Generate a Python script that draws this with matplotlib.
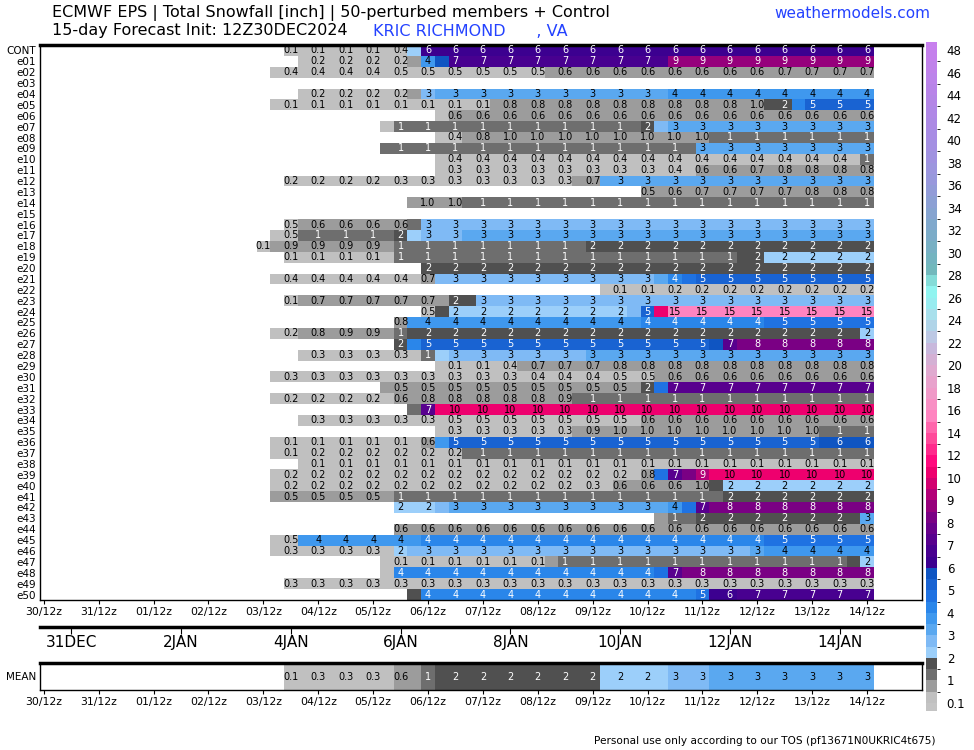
import numpy as np
import matplotlib
matplotlib.use("Agg")
import matplotlib.pyplot as plt
from matplotlib.colors import ListedColormap, BoundaryNorm
from matplotlib.cm import ScalarMappable

# 6-hourly accumulated snowfall [inch], 03/12z .. 14/12z (45 steps).
# "v*n" = n steps of value v, "-" = no snow.
MEMBERS = ["CONT"] + ["e%02d" % k for k in range(1, 51)]
SNOW_6H = [
    "-*2 0.1*7 0.3 0.4 2.2 6.2*33",                       # CONT
    "-*3 0.2*8 0.8 3.8 5.7 6.9*16 8.9*15",                # e01
    "- 0.4*9 0.48*11 0.6*17 0.7*7",                       # e02
    "-*45",                                               # e03
    "-*3 0.2*8 0.8 2.8 3.2*17 3.8*15",                    # e04
    "- 0.1*16 0.8*18 0.9 0.97 1.8 1.9 4.3 5.2*5",         # e05
    "-*13 0.4 0.6*31",                                    # e06
    "-*9 0.4 1.1*18 1.6 2.7 3.2*15",                      # e07
    "-*13 0.3 0.4 0.6 0.8 0.9 0.97*15 1.1*12",            # e08
    "-*9 1.1*23 3.2*13",                                  # e09
    "-*13 0.4*31 1.1",                                    # e10
    "-*13 0.3*17 0.4 0.45 0.6*3 0.65 0.7 0.75 0.8*7",     # e11
    "-*2 0.2*8 0.3*13 0.6 0.7 3.2*20",                    # e12
    "-*28 0.52 0.52 0.55 0.6 0.7*7 0.75 0.8*5",           # e13
    "-*11 0.97*4 1.1*30",                                 # e14
    "-*45",                                               # e15
    "-*2 0.48 0.6*8 1.2 2.8*33",                          # e16
    "- 0.4 0.48 1.1*7 1.7 2.3 2.8*3 3.2*30",              # e17
    "0.1 0.9*9 1.1*14 1.8*21",                            # e18
    "-*2 0.1*8 1.1*25 1.8 1.9 2.2*8",                     # e19
    "-*12 1.8*33",                                        # e20
    "- 0.3 0.4*10 0.7 2.8*16 3.3 4.4 4.8 5.2*13",         # e21
    "-*25 0.1*5 0.2*15",                                  # e22
    "-*2 0.1 0.7*11 1.8*2 2.8*29",                        # e23
    "-*12 0.48 1.8 2.2*13 2.7 5.2 10.5 15.2*15",          # e24
    "-*10 0.8 3.8*17 4.2*9 4.7*8",                        # e25
    "- 0.2 0.2 0.7 0.8 0.85 0.9*4 1.1 1.8*33 2.1",        # e26
    "-*10 1.8 4.3 5.2*21 5.7 7.2 8.2*10",                 # e27
    "-*3 0.3*9 1.1 2.3 2.8*10 3.2*21",                    # e28
    "-*13 0.1*4 0.3 0.4 0.7*7 0.8*19",                    # e29
    "- 0.3*19 0.4*6 0.48*3 0.6*16",                       # e30
    "-*9 0.53*19 1.8 4.6 7.2*15",                         # e31
    "- 0.2*9 0.6 0.8*11 0.9 1.1*22",                      # e32
    "-*11 1.3 7.2 10.3*32",                               # e33
    "-*3 0.3*10 0.48*15 0.6*17",                          # e34
    "-*13 0.3*10 0.6 0.9 0.97*16 1.1*4",                  # e35
    "- 0.1*11 0.6 3.8 5.2*27 5.7*4",                      # e36
    "- 0.1 0.1 0.2*12 1.1*30",                            # e37
    "-*3 0.1*42",                                         # e38
    "- 0.2*27 0.8 4.7 7.2 8.2 9.2 10.3*12",               # e39
    "- 0.2*23 0.3 0.4 0.6*6 0.97 1.8 2.2*11",             # e40
    "- 0.52*9 1.1*24 1.8*11",                             # e41
    "-*10 2.2*3 2.7 3.2*16 3.8 4.8 7.2 8.2*12",           # e42
    "-*29 0.8 1.2 1.3 1.8*12 3.2",                        # e43
    "-*10 0.6*35",                                        # e44
    "- 0.3 0.48 3.8*9 4.2*25 4.7*8",                      # e45
    "- 0.3*9 2.2 2.8*25 3.2 3.8*8",                       # e46
    "-*9 0.1*12 0.7 1.1*21 1.8 2.2",                      # e47
    "-*9 0.3 4.2*19 4.8 7.2 8.2*13 8.4",                  # e48
    "-*2 0.3*43",                                         # e49
    "-*11 1.8 4.2*20 4.8 6.1 6.2 6.6 6.9*9",              # e50
]
MEAN_6H = "-*2 0.1 0.2 0.3*6 0.6 0.8 1.2 1.8*12 2.2*5 2.8*3 3.2*12"

T0 = 4.0          # 03/12z, in days after 30/12z
DT = 0.25         # 6 hours
DAY_TICKS = ["30/12z", "31/12z", "01/12z", "02/12z", "03/12z", "04/12z",
             "05/12z", "06/12z", "07/12z", "08/12z", "09/12z", "10/12z",
             "11/12z", "12/12z", "13/12z", "14/12z"]
DATE_LABELS = ["31DEC", "2JAN", "4JAN", "6JAN", "8JAN", "10JAN", "12JAN", "14JAN"]

LEVELS = [0.1, 0.5, 1, 1.5, 2, 2.5, 3, 3.5, 4, 4.5, 5, 5.5, 6, 6.5, 7, 7.5,
          8, 8.5, 9, 9.5, 10] + list(range(11, 49))
COLORS = ["#c0c0c0", "#9c9c9c", "#6e6e6e", "#505050",
          "#9ccffa", "#7fbaf5", "#5aa8f0", "#3f98ee", "#2a86ea", "#1f72e2",
          "#1963d2", "#0f55c2", "#3c0090", "#480090", "#58008e", "#68008a",
          "#7a0084", "#96007c", "#b40078", "#d20070",
          "#ee006e", "#ff0a7e", "#ff2a8c", "#ff4a9a", "#ff66ac", "#ff84c0",
          "#f890c4", "#f09ac8", "#e8a2cc", "#e0aad0", "#d4b0d4", "#c8b8dc",
          "#bcc8e4", "#b0d4e8", "#a8e0ec", "#98ecf0", "#90f4f0", "#84dcd8",
          "#72b8bc", "#74b4c0", "#78b0c4", "#7cacc8", "#80a8cc", "#86a4d0",
          "#8ca0d4", "#929cd8", "#9898dc", "#9c96de", "#a092e0", "#a490e2",
          "#a88ce4", "#ac8ae4", "#b088e6", "#b486e6", "#b884e8", "#bc84ea",
          "#c082ea", "#c480ec"]
cmap = ListedColormap(COLORS)
cmap.set_under("#c4c4c4")
cmap.set_over("#c880ee")
norm = BoundaryNorm(LEVELS, cmap.N)


def expand(row):
    out = []
    for tok in row.split():
        v, _, n = tok.partition("*")
        out += [np.nan if v == "-" else float(v)] * int(n or 1)
    return out


def cell_text(v):
    return "%.1f" % v if v < 1 else "%d" % round(v)


def text_color(v):
    return "white" if (1 <= v < 2) or (4 <= v < 10) else "black"


grid = np.array([expand(r) for r in SNOW_6H])
mean = np.array([expand(MEAN_6H)])
n_steps = grid.shape[1]
x_edges = T0 - DT / 2 + DT * np.arange(n_steps + 1)
x_mid = T0 + DT * np.arange(n_steps)


def draw_cells(ax, data):
    ax.pcolormesh(x_edges, np.arange(data.shape[0] + 1) - 0.5,
                  np.ma.masked_invalid(data), cmap=cmap, norm=norm)
    for r in range(data.shape[0]):
        for c in range(0, n_steps, 2):
            v = data[r, c]
            if np.isfinite(v):
                ax.text(x_mid[c], r, cell_text(v), ha="center", va="center",
                        fontsize=7, color=text_color(v))


def style_time_axis(ax):
    ax.set_xlim(-0.07, 16.0)
    ax.set_xticks(np.arange(len(DAY_TICKS)))
    ax.set_xticklabels(DAY_TICKS, fontsize=7.8)
    ax.tick_params(axis="x", length=3, pad=2)
    for s in ax.spines.values():
        s.set_linewidth(1.0)
    ax.spines["top"].set_linewidth(2.5)


W, H = 974, 750
fig = plt.figure(figsize=(W / 100, H / 100), dpi=100)

# main member panel
ax = fig.add_axes([40 / W, 1 - 600 / H, 882 / W, 555 / H])
draw_cells(ax, grid)
ax.set_ylim(len(MEMBERS) - 0.5, -0.5)
ax.set_yticks(np.arange(len(MEMBERS)))
ax.set_yticklabels(MEMBERS, fontsize=7.5)
ax.tick_params(axis="y", length=0, pad=3)
style_time_axis(ax)

# date strip
axd = fig.add_axes([40 / W, 1 - 632 / H, 882 / W, 5 / H])
axd.set_xlim(-0.07, 16.0)
axd.set_ylim(0, 1)
axd.set_yticks([])
axd.set_xticks(0.5 + 2 * np.arange(len(DATE_LABELS)))
axd.set_xticklabels(DATE_LABELS, fontsize=11)
axd.tick_params(axis="x", top=True, bottom=False, labeltop=False,
                labelbottom=True, direction="in", length=5, pad=2)
for side in ("left", "right", "bottom"):
    axd.spines[side].set_visible(False)
axd.spines["top"].set_linewidth(2.5)
axd.patch.set_alpha(0)

# ensemble mean strip
axm = fig.add_axes([40 / W, 1 - 690 / H, 882 / W, 27 / H])
draw_cells(axm, mean)
axm.set_ylim(0.5, -0.5)
axm.set_yticks([0])
axm.set_yticklabels(["MEAN"], fontsize=7.5)
axm.tick_params(axis="y", length=0, pad=3)
style_time_axis(axm)

# colour bar: labels from 50 to 703 px, short end caps above and below
cax = fig.add_axes([926 / W, 1 - 711 / H, 11 / W, 669 / H])
ticks = [0.1, 1, 2, 3, 4, 5, 6, 7, 8, 9, 10] + list(range(12, 49, 2))
cb = fig.colorbar(ScalarMappable(norm=norm, cmap=cmap), cax=cax,
                  spacing="uniform", ticks=ticks, extend="both",
                  extendrect=True, extendfrac=8 / 653)
cb.ax.set_yticklabels(["0.1" if t == 0.1 else str(t) for t in ticks], fontsize=8.5)
cb.ax.tick_params(length=0, pad=7)
cb.outline.set_visible(False)

# titles
fig.text(52 / W, 1 - 13 / H,
         "ECMWF EPS | Total Snowfall [inch] | 50-perturbed members + Control",
         fontsize=11.5, va="center")
fig.text(52 / W, 1 - 31 / H, "15-day Forecast Init: 12Z30DEC2024",
         fontsize=11.5, va="center")
fig.text(373 / W, 1 - 31 / H, "KRIC RICHMOND      , VA", color="#2442ff",
         fontsize=11.5, va="center")
fig.text(930 / W, 1 - 13 / H, "weathermodels.com", color="#2442ff",
         fontsize=11, va="center", ha="right")
fig.text(935 / W, 1 - 741 / H,
         "Personal use only according to our TOS (pf13671N0UKRIC4t675)",
         fontsize=7.6, va="center", ha="right")

fig.savefig("out.png", dpi=100)
